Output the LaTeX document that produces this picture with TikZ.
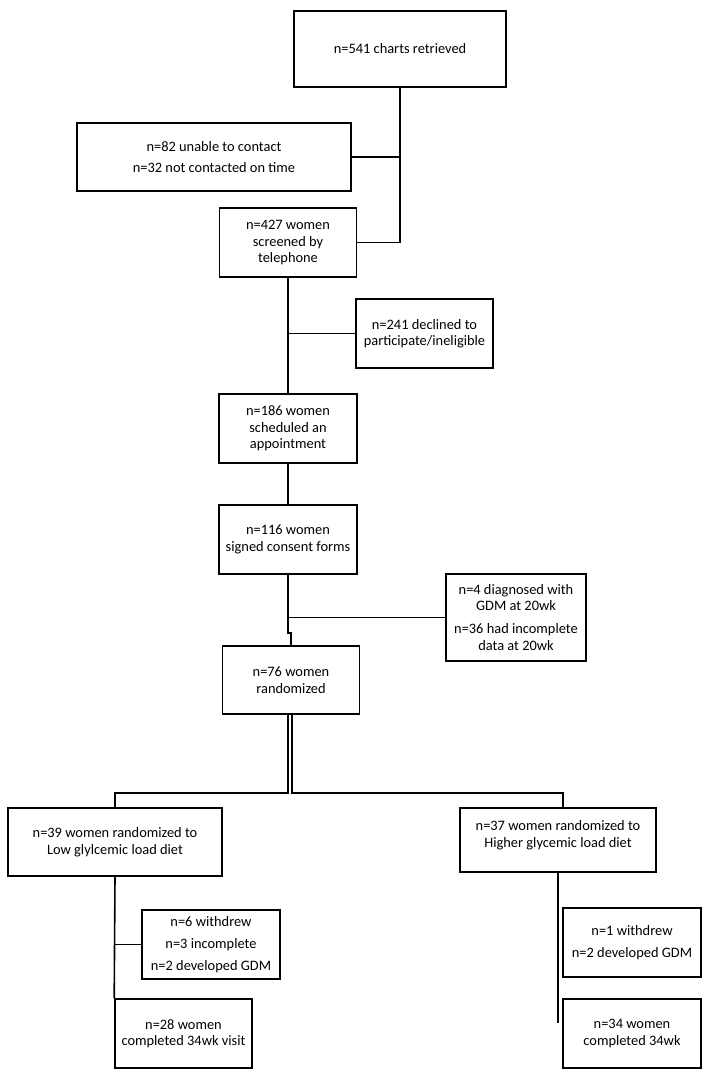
\documentclass[tikz,border=0pt]{standalone}
\usepackage{fontspec}
\setmainfont{Carlito}
\tikzset{
  box/.style={draw, line width=1.6pt, inner sep=0pt, align=center,
    font=\fontsize{14.4}{16.5}\selectfont},
  link/.style={line width=1.6pt}
}
\begin{document}
\begin{tikzpicture}[x=1pt,y=-1pt]
        \useasboundingbox[fill=white] (0,0) rectangle (714,1078);
        \node[box, minimum width=212, minimum height=76] (charts) at (400,49) {n=541 charts retrieved};
        \node[box, minimum width=274, minimum height=68] (nocontact) at (214,157) {n=82 unable to contact\\[4.5pt]n=32 not contacted on time};
        \node[box, minimum width=137, minimum height=69] (screen) at (288,242.5) {n=427 women\\screened by\\telephone};
        \node[box, minimum width=137, minimum height=69] (declined) at (424.5,333.5) {n=241 declined to\\participate/ineligible};
        \node[box, minimum width=138, minimum height=69] (sched) at (288,428.5) {n=186 women\\scheduled an\\appointment};
        \node[box, minimum width=138, minimum height=69] (consent) at (288,539.5) {n=116 women\\signed consent forms};
        \node[box, minimum width=140, minimum height=87] (gdm) at (516,617.5) {n=4 diagnosed with\\GDM at 20wk\\[6.5pt]n=36 had incomplete\\data at 20wk};
        \node[box, minimum width=137, minimum height=68] (random) at (291,680) {n=76 women\\randomized};
        \node[box, minimum width=214, minimum height=68] (low) at (115,842) {n=39 women randomized to\\Low glylcemic load diet};
        \node[box, minimum width=196, minimum height=64] (high) at (558,840) {n=37 women randomized to\\Higher glycemic load diet\\[-4pt]};
        \node[box, minimum width=138, minimum height=69] (lowout) at (211,944.5) {n=6 withdrew\\[5.5pt]n=3 incomplete\\[5.5pt]n=2 developed GDM};
        \node[box, minimum width=137, minimum height=69] (lowdone) at (183.5,1033.5) {n=28 women\\completed 34wk visit};
        \node[box, minimum width=138, minimum height=69] (highout) at (632,942.5) {n=1 withdrew\\[5.5pt]n=2 developed GDM};
        \node[box, minimum width=138, minimum height=69] (highdone) at (632,1033.5) {n=34 women\\completed 34wk};
        \coordinate (hend) at (558,1023);
        % trunk and side branches
        \draw[link] (charts.south) |- (screen.east);
        \draw[link] (charts.south |- nocontact.east) -- (nocontact.east);
        \draw[link] (screen.south) -- (sched.north);
        \draw[link] (screen.south |- declined.west) -- (declined.west);
        \draw[link] (sched.south) -- (consent.north);
        \draw[link] (consent.south) -- ++(0,58) -| (random.north);
        \draw[link] (consent.south |- gdm.west) -- (gdm.west);
        % the two arms
        \draw[link] ([xshift=-3]random.south) -- ++(0,78) -| (low.north);
        \draw[link] ([xshift=1]random.south) -- ++(0,78) -| ([xshift=5]high.north);
        \draw[link] (low.south) -- (lowdone.north west);
        \draw[link] (low.south |- lowout.west) -- (lowout.west);
        \draw[link] (high.south) -- (hend);
\end{tikzpicture}
\end{document}
